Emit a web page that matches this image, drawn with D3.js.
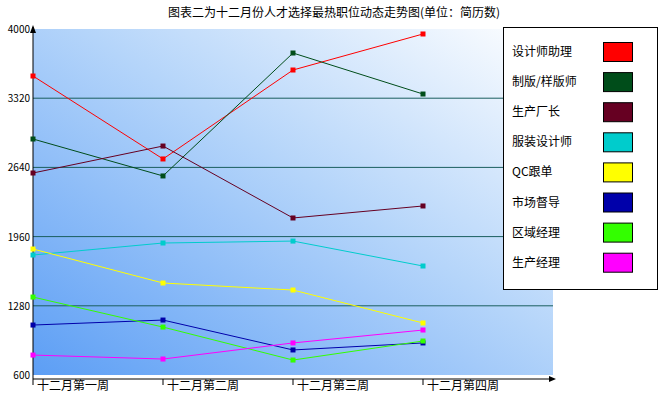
<!DOCTYPE html>
<html><head><meta charset="utf-8">
<script src="https://cdn.jsdelivr.net/npm/d3@7"></script>
<style>body{margin:0;background:#fff}text{font-family:"Noto Sans CJK SC","DejaVu Sans",sans-serif}</style>
</head><body><svg id="c" width="668" height="402"></svg>
<script>
const categories=["十二月第一周","十二月第二周","十二月第三周","十二月第四周"];
const seriesNames=["设计师助理","制版/样版师","生产厂长","服装设计师","QC跟单","市场督导","区域经理","生产经理"];
const seriesColors=["#ff0000","#004d1a","#660022","#00cccc","#ffff00","#0000aa","#33ff00","#ff00ff"];
const s1=[3538,2723,3597,3951];
const s2=[2919,2556,3764,3361];
const s3=[2585,2850,2143,2261];
const s4=[1779,1897,1916,1671];
const s5=[1838,1504,1435,1111];
const s6=[1091,1140,846,915];
const s7=[1366,1071,747,934];
const s8=[796,757,915,1042];
const series=[s1,s2,s3,s4,s5,s6,s7,s8];
const yTicks=[600,1280,1960,2640,3320,4000];
const title="图表二为十二月份人才选择最热职位动态走势图(单位：简历数)";

const svg=d3.select("#c");
const L=33,R=553,T=29,B=375;
const x=d3.scalePoint().domain(categories).range([L,L+390]);
const y=d3.scaleLinear().domain([600,4000]).range([B,T]);
const defs=svg.append("defs");
const g=defs.append("linearGradient").attr("id","bg").attr("x1","0").attr("y1","1").attr("x2","1").attr("y2","0");
g.append("stop").attr("offset","0").attr("stop-color","#5c9ef5");
g.append("stop").attr("offset","0.55").attr("stop-color","#b5d5fa");
g.append("stop").attr("offset","1").attr("stop-color","#ffffff");
svg.append("rect").attr("x",L).attr("y",T).attr("width",R-L).attr("height",B-T).attr("fill","url(#bg)");
svg.append("text").attr("x",334).attr("y",17).attr("text-anchor","middle").attr("font-size",12).text(title);
yTicks.slice(1,-1).forEach(v=>svg.append("line").attr("x1",L).attr("x2",R).attr("y1",y(v)).attr("y2",y(v)).attr("stroke","#1a5e5e").attr("stroke-width",1));
yTicks.forEach(v=>svg.append("text").attr("x",30).attr("y",y(v)+4).attr("text-anchor","end").attr("font-size",10).text(v));
// axes
svg.append("line").attr("x1",L).attr("x2",L).attr("y1",B+4).attr("y2",T-2).attr("stroke","#000");
svg.append("path").attr("d",`M${L-3},${T+4}L${L},${T-4}L${L+3},${T+4}Z`).attr("fill","#000");
svg.append("line").attr("x1",L).attr("x2",R-3).attr("y1",B+4).attr("y2",B+4).attr("stroke","#000");
svg.append("path").attr("d",`M${R-4},${B+1}L${R+3},${B+4}L${R-4},${B+7}Z`).attr("fill","#000");
categories.forEach(c=>{
  svg.append("line").attr("x1",x(c)).attr("x2",x(c)).attr("y1",B+4).attr("y2",B+10).attr("stroke","#000");
  svg.append("text").attr("x",x(c)+4).attr("y",B+15).attr("font-size",12).text(c);
});
const line=d3.line().x((d,i)=>x(categories[i])).y(d=>y(d));
series.forEach((s,k)=>{
  svg.append("path").attr("d",line(s)).attr("fill","none").attr("stroke",seriesColors[k]).attr("stroke-width",1);
  s.forEach((v,i)=>svg.append("rect").attr("x",x(categories[i])-2.5).attr("y",y(v)-2.5).attr("width",5).attr("height",5).attr("fill",seriesColors[k]));
});
// legend
svg.append("rect").attr("x",503.5).attr("y",27.5).attr("width",154).attr("height",262).attr("fill","#fff").attr("stroke","#000");
seriesNames.forEach((n,k)=>{
  const yy=52+k*30.1;
  svg.append("text").attr("x",512).attr("y",yy+4).attr("font-size",12).text(n);
  svg.append("rect").attr("x",603.5).attr("y",yy-9.5).attr("width",29).attr("height",19).attr("fill",seriesColors[k]).attr("stroke","#000");
});
</script></body></html>
